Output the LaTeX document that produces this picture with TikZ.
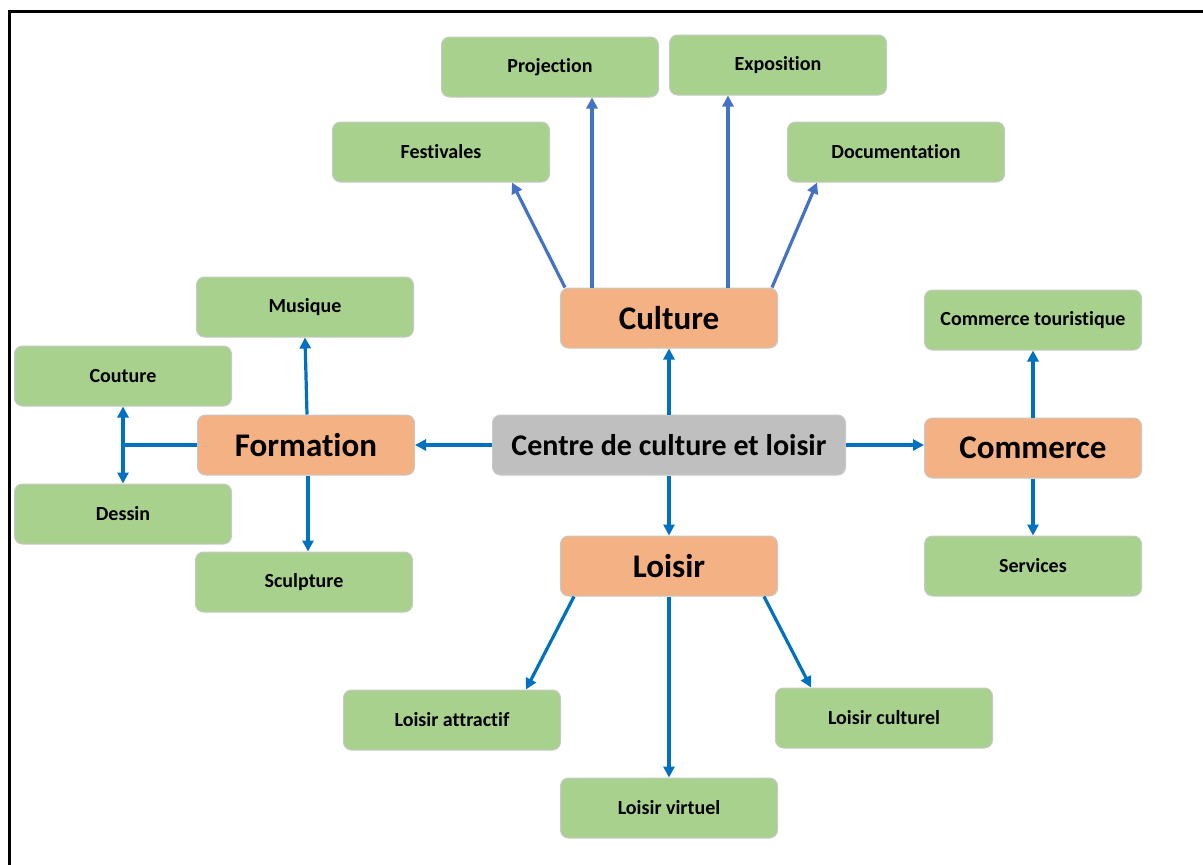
\documentclass[tikz,border=0pt]{standalone}
\usepackage{fontspec}
\setsansfont{Carlito}[Ligatures=NoCommon]
\usetikzlibrary{arrows.meta}
\definecolor{leaf}{HTML}{A9D18E}
\definecolor{branch}{HTML}{F4B183}
\definecolor{hub}{HTML}{BFBFBF}
\definecolor{edge}{HTML}{C8C8C8}
\definecolor{culblue}{HTML}{4472C4}
\definecolor{linkblue}{HTML}{0070C0}
\begin{document}
\begin{tikzpicture}[x=1pt,y=-1pt,font=\sffamily\bfseries,
  box/.style={draw=edge,line width=1pt,rounded corners=8pt,minimum width=217pt,minimum height=60pt,inner sep=2pt},
  leafbox/.style={box,fill=leaf,font=\sffamily\bfseries\fontsize{20}{24}\selectfont},
  branchbox/.style={box,fill=branch,font=\sffamily\bfseries\fontsize{33}{38}\selectfont},
  hubbox/.style={box,fill=hub,minimum width=353pt,font=\sffamily\bfseries\fontsize{30}{34}\selectfont},
  link/.style={-{Triangle[length=11pt,width=11pt]},line width=3.2pt,linkblue},
  cul/.style={link,culblue}]
  \useasboundingbox (0,0) rectangle (1203,865);
  \fill[white] (0,0) rectangle (1203,865);
  % ===== frame =====
  \draw[line width=3pt,black] (9,865) -- (9,11) -- (1203,11);

  % ===== centre and branches =====
  \node[hubbox] (centre) at (669,445) {Centre de culture et loisir};
  \node[branchbox] (cult) at (669,318) {Culture};
  \node[branchbox] (form) at (306,445) {Formation};
  \node[branchbox] (comm) at (1033,448) {Commerce};
  \node[branchbox] (lois) at (669,566) {Loisir};

  % ===== culture leaves =====
  \node[leafbox] (proj) at (550,67) {Projection};
  \node[leafbox] (expo) at (778,65) {Exposition};
  \node[leafbox] (fest) at (441,152) {Festivales};
  \node[leafbox] (docu) at (896,152) {Documentation};

  % ===== formation leaves =====
  \node[leafbox] (musi) at (305,307) {Musique};
  \node[leafbox] (cout) at (123,376) {Couture};
  \node[leafbox] (dess) at (123,514) {Dessin};
  \node[leafbox] (scul) at (304,582) {Sculpture};

  % ===== commerce leaves =====
  \node[leafbox] (tour) at (1033,320) {Commerce touristique};
  \node[leafbox] (serv) at (1033,566) {Services};

  % ===== loisir leaves =====
  \node[leafbox] (attr) at (452,720) {Loisir attractif};
  \node[leafbox] (clt) at (884,718) {Loisir culturel};
  \node[leafbox] (virt) at (669,808) {Loisir virtuel};

  % ===== connectors =====
  \draw[link] (centre.north) -- (cult.south);
  \draw[link] (centre.west) -- (form.east);
  \draw[link] (centre.east) -- (centre.east -| comm.west);
  \draw[link] (centre.south) -- (lois.north);

  \draw[cul] ([xshift=5pt]cult.north west) -- ([xshift=-38pt]fest.south east);
  \draw[cul] ([xshift=32pt]cult.north west) -- ([xshift=32pt]cult.north west |- proj.south);
  \draw[cul] ([xshift=-50pt]cult.north east) -- ([xshift=-50pt]cult.north east |- expo.south);
  \draw[cul] ([xshift=-6pt]cult.north east) -- ([xshift=30pt]docu.south west);

  \draw[link] ([xshift=1pt]form.north) -- (musi.south);
  \draw[link] ([xshift=2pt]form.south) -- ([xshift=2pt]form.south |- scul.north);
  \coordinate (split) at (form.west -| cout.south);
  \draw[line width=3.2pt,linkblue] (form.west) -- (split);
  \draw[{Triangle[length=11pt,width=11pt]}-{Triangle[length=11pt,width=11pt]},line width=3.2pt,linkblue] (cout.south) -- (dess.north);

  \draw[link] (comm.north) -- (tour.south);
  \draw[link] (comm.south) -- (serv.north);

  \draw[link] ([xshift=14pt]lois.south west) -- ([xshift=-35pt]attr.north east);
  \draw[link] (lois.south) -- (virt.north);
  \draw[link] ([xshift=-14pt]lois.south east) -- ([xshift=36pt]clt.north west);
\end{tikzpicture}
\end{document}
